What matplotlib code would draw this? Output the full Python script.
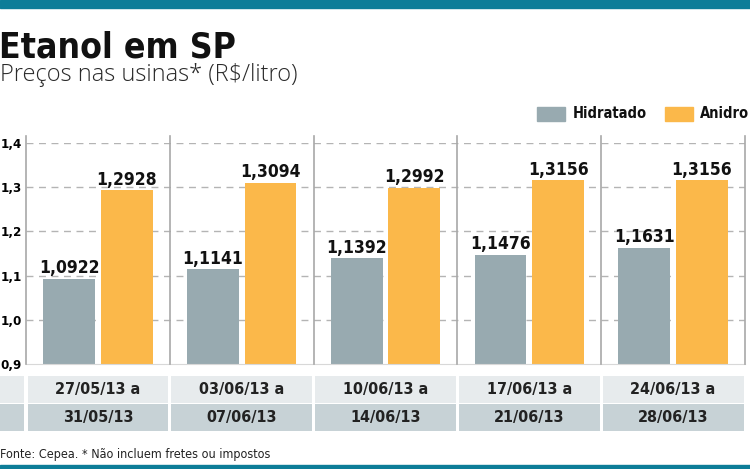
import matplotlib
matplotlib.use('Agg')
import matplotlib.pyplot as plt
from matplotlib.patches import Rectangle

# ── data ──────────────────────────────────────────────────────────────────────
week_start = ['27/05/13 a', '03/06/13 a', '10/06/13 a', '17/06/13 a', '24/06/13 a']
week_end = ['31/05/13', '07/06/13', '14/06/13', '21/06/13', '28/06/13']
hidratado = [1.0922, 1.1141, 1.1392, 1.1476, 1.1631]
anidro = [1.2928, 1.3094, 1.2992, 1.3156, 1.3156]
yticks = [0.9, 1.0, 1.1, 1.2, 1.3, 1.4]

C_HID = '#98aab0'
C_ANI = '#fbb84a'
C_TEAL = '#0d7d98'
C_ROW1 = '#e7ebed'
C_ROW2 = '#c7d2d6'
C_GRID = '#b4b4b4'

COND = dict(family='DejaVu Sans', stretch='condensed')
LIGHT = ['Open Sans', 'DejaVu Sans']

W, H = 750, 469
fig = plt.figure(figsize=(W / 100, H / 100), dpi=100)
fig.patch.set_facecolor('white')

def fx(px):
    return px / W

def fy(py):
    return 1 - py / H

# top / bottom teal bands
fig.patches.append(Rectangle((0, fy(8)), 1, 8 / H, transform=fig.transFigure,
                             color=C_TEAL, zorder=0))
fig.patches.append(Rectangle((0, 0), 1, 4 / H, transform=fig.transFigure,
                             color=C_TEAL, zorder=0))

fig.text(fx(-1), fy(58), 'Etanol em SP', **COND, fontweight='bold',
         fontsize=25.5, color='#111111', va='baseline')
fig.text(fx(0), fy(81), 'Preços nas usinas* (R$/litro)', family=LIGHT,
         fontweight='light', fontsize=17, color='#2a2a2a', va='baseline')

# ── chart ─────────────────────────────────────────────────────────────────────
left, right, top, bottom = 26, 745, 143, 364
ax = fig.add_axes([fx(left), fy(bottom), (right - left) / W, (bottom - top) / H])
n = len(hidratado)
ax.set_xlim(0, n)
ax.set_ylim(0.9, 1.4)

bw = 0.36
xs = list(range(n))
ax.bar([x + 0.30 for x in xs], [v - 0.9 for v in hidratado], bw, bottom=0.9,
       color=C_HID, zorder=2)
ax.bar([x + 0.70 for x in xs], [v - 0.9 for v in anidro], bw, bottom=0.9,
       color=C_ANI, zorder=2)

for x, v in zip(xs, hidratado):
    ax.text(x + 0.30, v + 0.004, f'{v:.4f}'.replace('.', ','), ha='center',
            va='bottom', **COND, fontweight='bold', fontsize=12.5, color='#111111')
for x, v in zip(xs, anidro):
    ax.text(x + 0.70, v + 0.004, f'{v:.4f}'.replace('.', ','), ha='center',
            va='bottom', **COND, fontweight='bold', fontsize=12.5, color='#111111')

for y in yticks[1:]:
    ax.axhline(y, color=C_GRID, linewidth=1, dashes=(5, 4), zorder=1)
for x in range(n + 1):
    ax.axvline(x, ymin=0, ymax=1.03, color='#a8a8a8', linewidth=1.2,
               clip_on=False, zorder=3)

for s in ['top', 'right', 'left']:
    ax.spines[s].set_visible(False)
ax.spines['bottom'].set_color('#d8d8d8')
ax.set_yticks(yticks)
ax.set_yticklabels([f'{t:.1f}'.replace('.', ',') for t in yticks],
                   **COND, fontweight='bold', fontsize=9.5)
ax.tick_params(axis='y', length=0, pad=3)
ax.set_xticks([])

# ── legend ────────────────────────────────────────────────────────────────────
fig.patches.append(Rectangle((fx(537), fy(121)), 28 / W, 14 / H,
                             transform=fig.transFigure, color=C_HID))
fig.text(fx(573), fy(114), 'Hidratado', **COND, fontweight='bold',
         fontsize=10.5, va='center', color='#111111')
fig.patches.append(Rectangle((fx(665), fy(121)), 28 / W, 14 / H,
                             transform=fig.transFigure, color=C_ANI))
fig.text(fx(700), fy(114), 'Anidro', **COND, fontweight='bold',
         fontsize=10.5, va='center', color='#111111')

# ── date table ────────────────────────────────────────────────────────────────
tab = fig.add_axes([0, fy(432), 1, (432 - 375) / H])
grp = (right - left) / n
tab.set_xlim(-left / grp, (W - left) / grp)
tab.set_ylim(0, 2)
tab.axis('off')
gap = 1.5 / grp
for row, color in [(1, C_ROW1), (0, C_ROW2)]:
    tab.add_patch(Rectangle((-left / grp, row + 0.02), (left - 2) / grp, 0.96,
                            color=color, linewidth=0))
    for i in range(n):
        tab.add_patch(Rectangle((i + gap, row + 0.02), 1 - 2 * gap, 0.96,
                                color=color, linewidth=0))
for i in range(n):
    tab.text(i + 0.5, 1.5, week_start[i], ha='center', va='center',
             **COND, fontweight='bold', fontsize=11.5, color='#222222')
    tab.text(i + 0.5, 0.5, week_end[i], ha='center', va='center',
             **COND, fontweight='bold', fontsize=11.5, color='#222222')

fig.text(fx(0), fy(454), 'Fonte: Cepea. * Não incluem fretes ou impostos',
         **COND, fontsize=9, va='center', color='#222222')

fig.savefig('out.png', dpi=100, facecolor='white')
